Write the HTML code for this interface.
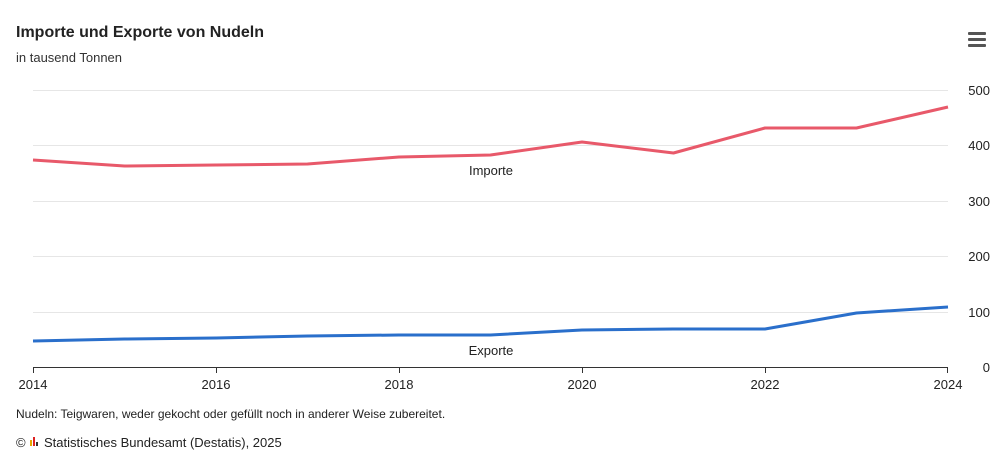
<!DOCTYPE html>
<html><head><meta charset="utf-8"><style>
body{margin:0;background:#fff;width:1000px;height:456px;overflow:hidden;font-family:"Liberation Sans",sans-serif;}
</style></head><body>
<svg width="1000" height="456" xmlns="http://www.w3.org/2000/svg" font-family="Liberation Sans, sans-serif">
<text x="16" y="37" font-size="16" font-weight="bold" fill="#222">Importe und Exporte von Nudeln</text>
<text x="16" y="62" font-size="13" fill="#333">in tausend Tonnen</text>
<g fill="#555"><rect x="968" y="32" width="18" height="3" rx="1"/><rect x="968" y="38" width="18" height="3" rx="1"/><rect x="968" y="44" width="18" height="3" rx="1"/></g>
<g stroke="#e6e6e6" stroke-width="1">
<line x1="33" y1="90.5" x2="948" y2="90.5"/><line x1="33" y1="145.5" x2="948" y2="145.5"/><line x1="33" y1="201.5" x2="948" y2="201.5"/><line x1="33" y1="256.5" x2="948" y2="256.5"/><line x1="33" y1="312.5" x2="948" y2="312.5"/>
</g>
<line x1="33" y1="367.5" x2="948" y2="367.5" stroke="#333" stroke-width="1"/>
<g stroke="#333"><line x1="33.5" y1="367" x2="33.5" y2="373"/><line x1="216.5" y1="367" x2="216.5" y2="373"/><line x1="399.5" y1="367" x2="399.5" y2="373"/><line x1="582.5" y1="367" x2="582.5" y2="373"/><line x1="765.5" y1="367" x2="765.5" y2="373"/><line x1="947.5" y1="367" x2="947.5" y2="373"/></g>
<g font-size="13" fill="#222" text-anchor="middle">
<text x="33" y="389">2014</text><text x="216" y="389">2016</text><text x="399" y="389">2018</text><text x="582" y="389">2020</text><text x="765" y="389">2022</text><text x="948" y="389">2024</text>
</g>
<g font-size="13" fill="#222" text-anchor="end">
<text x="990" y="95">500</text><text x="990" y="150">400</text><text x="990" y="206">300</text><text x="990" y="261">200</text><text x="990" y="317">100</text><text x="990" y="372">0</text>
</g>
<polyline fill="none" stroke="#e8596a" stroke-width="3" stroke-linejoin="round" points="33,160 124.5,166 216,165 307.5,164 399,157 490.5,155 582,142 673.5,153 765,128 856.5,128 948,107"/>
<polyline fill="none" stroke="#2a6fcb" stroke-width="3" stroke-linejoin="round" points="33,341 124.5,339 216,338 307.5,336 399,335 490.5,335 582,330 673.5,329 765,329 856.5,313 948,307"/>
<text x="491" y="175" font-size="13" fill="#222" text-anchor="middle">Importe</text>
<text x="491" y="355" font-size="13" fill="#222" text-anchor="middle">Exporte</text>
<text x="16" y="418" font-size="12" fill="#222">Nudeln: Teigwaren, weder gekocht oder gefüllt noch in anderer Weise zubereitet.</text>
<text x="16" y="447" font-size="13" fill="#222">©</text>
<rect x="30" y="440" width="2" height="6" fill="#e6a800"/><rect x="33" y="437" width="2" height="9" fill="#d22"/><rect x="36" y="442" width="2" height="4" fill="#333"/>
<text x="44" y="447" font-size="13" fill="#222">Statistisches Bundesamt (Destatis), 2025</text>
</svg>
</body></html>
